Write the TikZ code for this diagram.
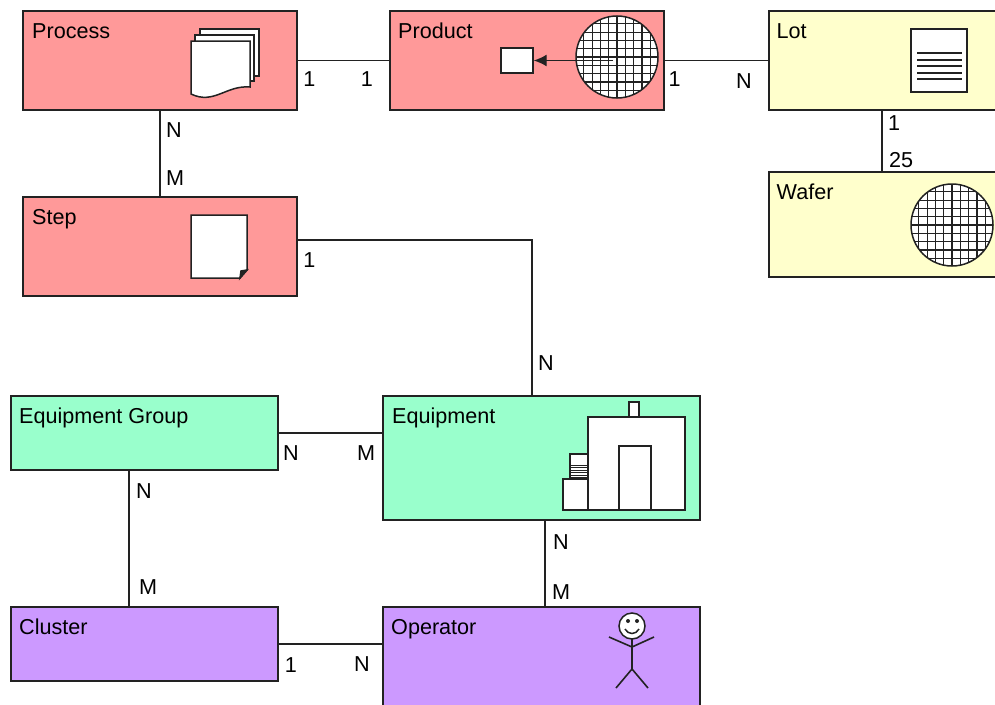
\documentclass[tikz,border=0pt]{standalone}
\usepackage{fontspec}
\setmainfont{Liberation Sans}
\usetikzlibrary{arrows.meta, positioning}

\definecolor{procred}{HTML}{FF9999}
\definecolor{lotyellow}{HTML}{FFFFCC}
\definecolor{equipgreen}{HTML}{99FFCC}
\definecolor{operpurple}{HTML}{CC99FF}
\definecolor{inkgray}{HTML}{222222}

\begin{document}
\begin{tikzpicture}[
  x=1pt, y=-1pt,
  box/.style={draw=inkgray, line width=1.3pt, outer sep=0pt, inner sep=0pt, minimum width=274pt, minimum height=99pt},
  widebox/.style={box, minimum width=317pt, minimum height=124pt},
  lowbox/.style={box, minimum width=267pt, minimum height=74pt},
  title/.style={anchor=base west, inner sep=0pt, font=\fontsize{21.6}{24}\selectfont},
  card/.style={inner sep=0pt, font=\fontsize{21.6}{24}\selectfont},
  link/.style={draw=inkgray, line width=1.4pt},
  icon/.style={draw=inkgray, fill=white, line width=1.5pt},
  wafer/.pic={
    \fill[white] (0,0) circle[radius=41];
    \begin{scope}
      \clip (0,0) circle[radius=41];
      \foreach \k in {-5,...,5} {
        \draw[inkgray, line width=1.2pt] (\k*8.3,-41) -- (\k*8.3,41);
        \draw[inkgray, line width=1.2pt] (-41,\k*8.3) -- (41,\k*8.3);
      }
    \end{scope}
    \draw[inkgray, line width=1.5pt] (0,0) circle[radius=41];
  }
]
\useasboundingbox (0,0) rectangle (995,704);

% process flow row
\node[box, fill=procred] (process) at (160,60.5) {};
\node[box, fill=procred, right=93pt of process] (product) {};
\node[box, fill=lotyellow, right=105pt of product] (lot) {};
\node[box, fill=procred, below=87pt of process] (stepnode) {};
\node[box, fill=lotyellow, below=62pt of lot, minimum height=105pt] (wafer) {};

% equipment block
\node[widebox, fill=equipgreen] (equipment) at (541.5,458) {};
\node[widebox, fill=operpurple, below=87pt of equipment] (operator) {};
\node[lowbox, fill=equipgreen] (eqgroup) at (144.5,433) {};
\node[lowbox, fill=operpurple] (cluster) at (144.5,644) {};

\node[title] (processtitle) at ([xshift=9pt,yshift=-27pt]process.north west) {Process};
\node[title] (producttitle) at ([xshift=8pt,yshift=-27pt]product.north west) {Product};
\node[title] (lottitle) at ([xshift=7.5pt,yshift=-27pt]lot.north west) {Lot};
\node[title] (wafertitle) at ([xshift=7.5pt,yshift=-27pt]wafer.north west) {Wafer};
\node[title] (steptitle) at ([xshift=9pt,yshift=-27pt]stepnode.north west) {Step};
\node[title] (equipmenttitle) at ([xshift=9pt,yshift=-27pt]equipment.north west) {Equipment};
\node[title] (eqgrouptitle) at ([xshift=8pt,yshift=-27pt]eqgroup.north west) {Equipment Group};
\node[title] (clustertitle) at ([xshift=8pt,yshift=-27pt]cluster.north west) {Cluster};
\node[title] (operatortitle) at ([xshift=8pt,yshift=-27pt]operator.north west) {Operator};

\draw[link] (process) -- (product);
\draw[link] (product) -- (lot);
\draw[link] (process) -- (stepnode);
\draw[link] ([xshift=-24pt]lot.south) -- ([xshift=-24pt]wafer.north);
\draw[link] ([yshift=6.5pt]stepnode.east) -| ([xshift=-9.5pt]equipment.north);
\draw[link] (eqgroup.east) -- (eqgroup.east -| equipment.west);
\draw[link] ([xshift=-15.5pt]eqgroup.south) -- ([xshift=-15.5pt]cluster.north);
\draw[link] ([xshift=3.5pt]equipment.south) -- ([xshift=3.5pt]operator.north);
\draw[link] (cluster) -- (cluster -| operator.west);

\node[card] (n1) at (309.5,79) {1};
\node[card] (n2) at (367,79) {1};
\node[card] (n3) at (674.5,79) {1};
\node[card] (n4) at (744,81) {N};
\node[card] (n5) at (174,130) {N};
\node[card] (n6) at (175,178) {M};
\node[card] (n7) at (894,123) {1};
\node[card] (n8) at (901,160) {25};
\node[card] (n9) at (309.5,260) {1};
\node[card] (n10) at (546,363) {N};
\node[card] (n11) at (291,453) {N};
\node[card] (n12) at (366,453) {M};
\node[card] (n13) at (144,491) {N};
\node[card] (n14) at (148,587) {M};
\node[card] (n15) at (561,542) {N};
\node[card] (n16) at (561,592) {M};
\node[card] (n17) at (291,665) {1};
\node[card] (n18) at (362,664) {N};

% process icon
\draw[icon] (200,29) rectangle (259,76);
\draw[icon] (195,35) rectangle (254,81);
\draw[icon] (191,41) -- (250,41) -- (250,87) .. controls (226,85) and (214,105) .. (191,94) -- cycle;

% step icon
\draw[icon] (191,215) -- (247,215) -- (247,270) -- (240,278) -- (191,278) -- cycle;
\draw[icon, fill=inkgray] (240,278) -- (241,271) -- (247,270) -- cycle;

% product icon
\pic at (617,57) {wafer};
\node[icon, inner sep=0pt, outer sep=0.7pt, minimum width=32pt, minimum height=25pt] (die) at (517,60.5) {};
\coordinate (wafercenter) at (613,60.5);
\draw[link, -{Latex[length=13pt,width=12pt]}] (wafercenter) -- (die);

% lot icon
\draw[icon] (911,29) rectangle (967,92);
\foreach \y in {53,60,66,73,79} {
  \draw[inkgray, line width=1.4pt] (917,\y) -- (962,\y);
}

% wafer icon
\pic at (952,225) {wafer};

% equipment icon
\draw[icon] (629,402) rectangle (639,417);
\draw[icon] (588,417) rectangle (685,510);
\draw[icon] (619,446) rectangle (651,510);
\draw[icon] (570,454) rectangle (588,479);
\draw[icon] (563,479) rectangle (588,510);
\foreach \y in {465,467.5,470,472.5,475,477.5} {
  \draw[inkgray, line width=0.9pt] (570,\y) -- (588,\y);
}

% operator icon
\draw[icon] (632,626) circle[radius=13];
\fill[inkgray] (628,621) circle[radius=2];
\fill[inkgray] (637,621) circle[radius=2];
\draw[inkgray, line width=1.5pt] (625,629) .. controls (628,635) and (636,635) .. (639,629);
\draw[inkgray, line width=1.6pt] (632,639) -- (632,669);
\draw[inkgray, line width=1.6pt] (609,637) -- (632,647) -- (654,637);
\draw[inkgray, line width=1.6pt] (616,688) -- (632,669) -- (648,688);
\end{tikzpicture}
\end{document}
